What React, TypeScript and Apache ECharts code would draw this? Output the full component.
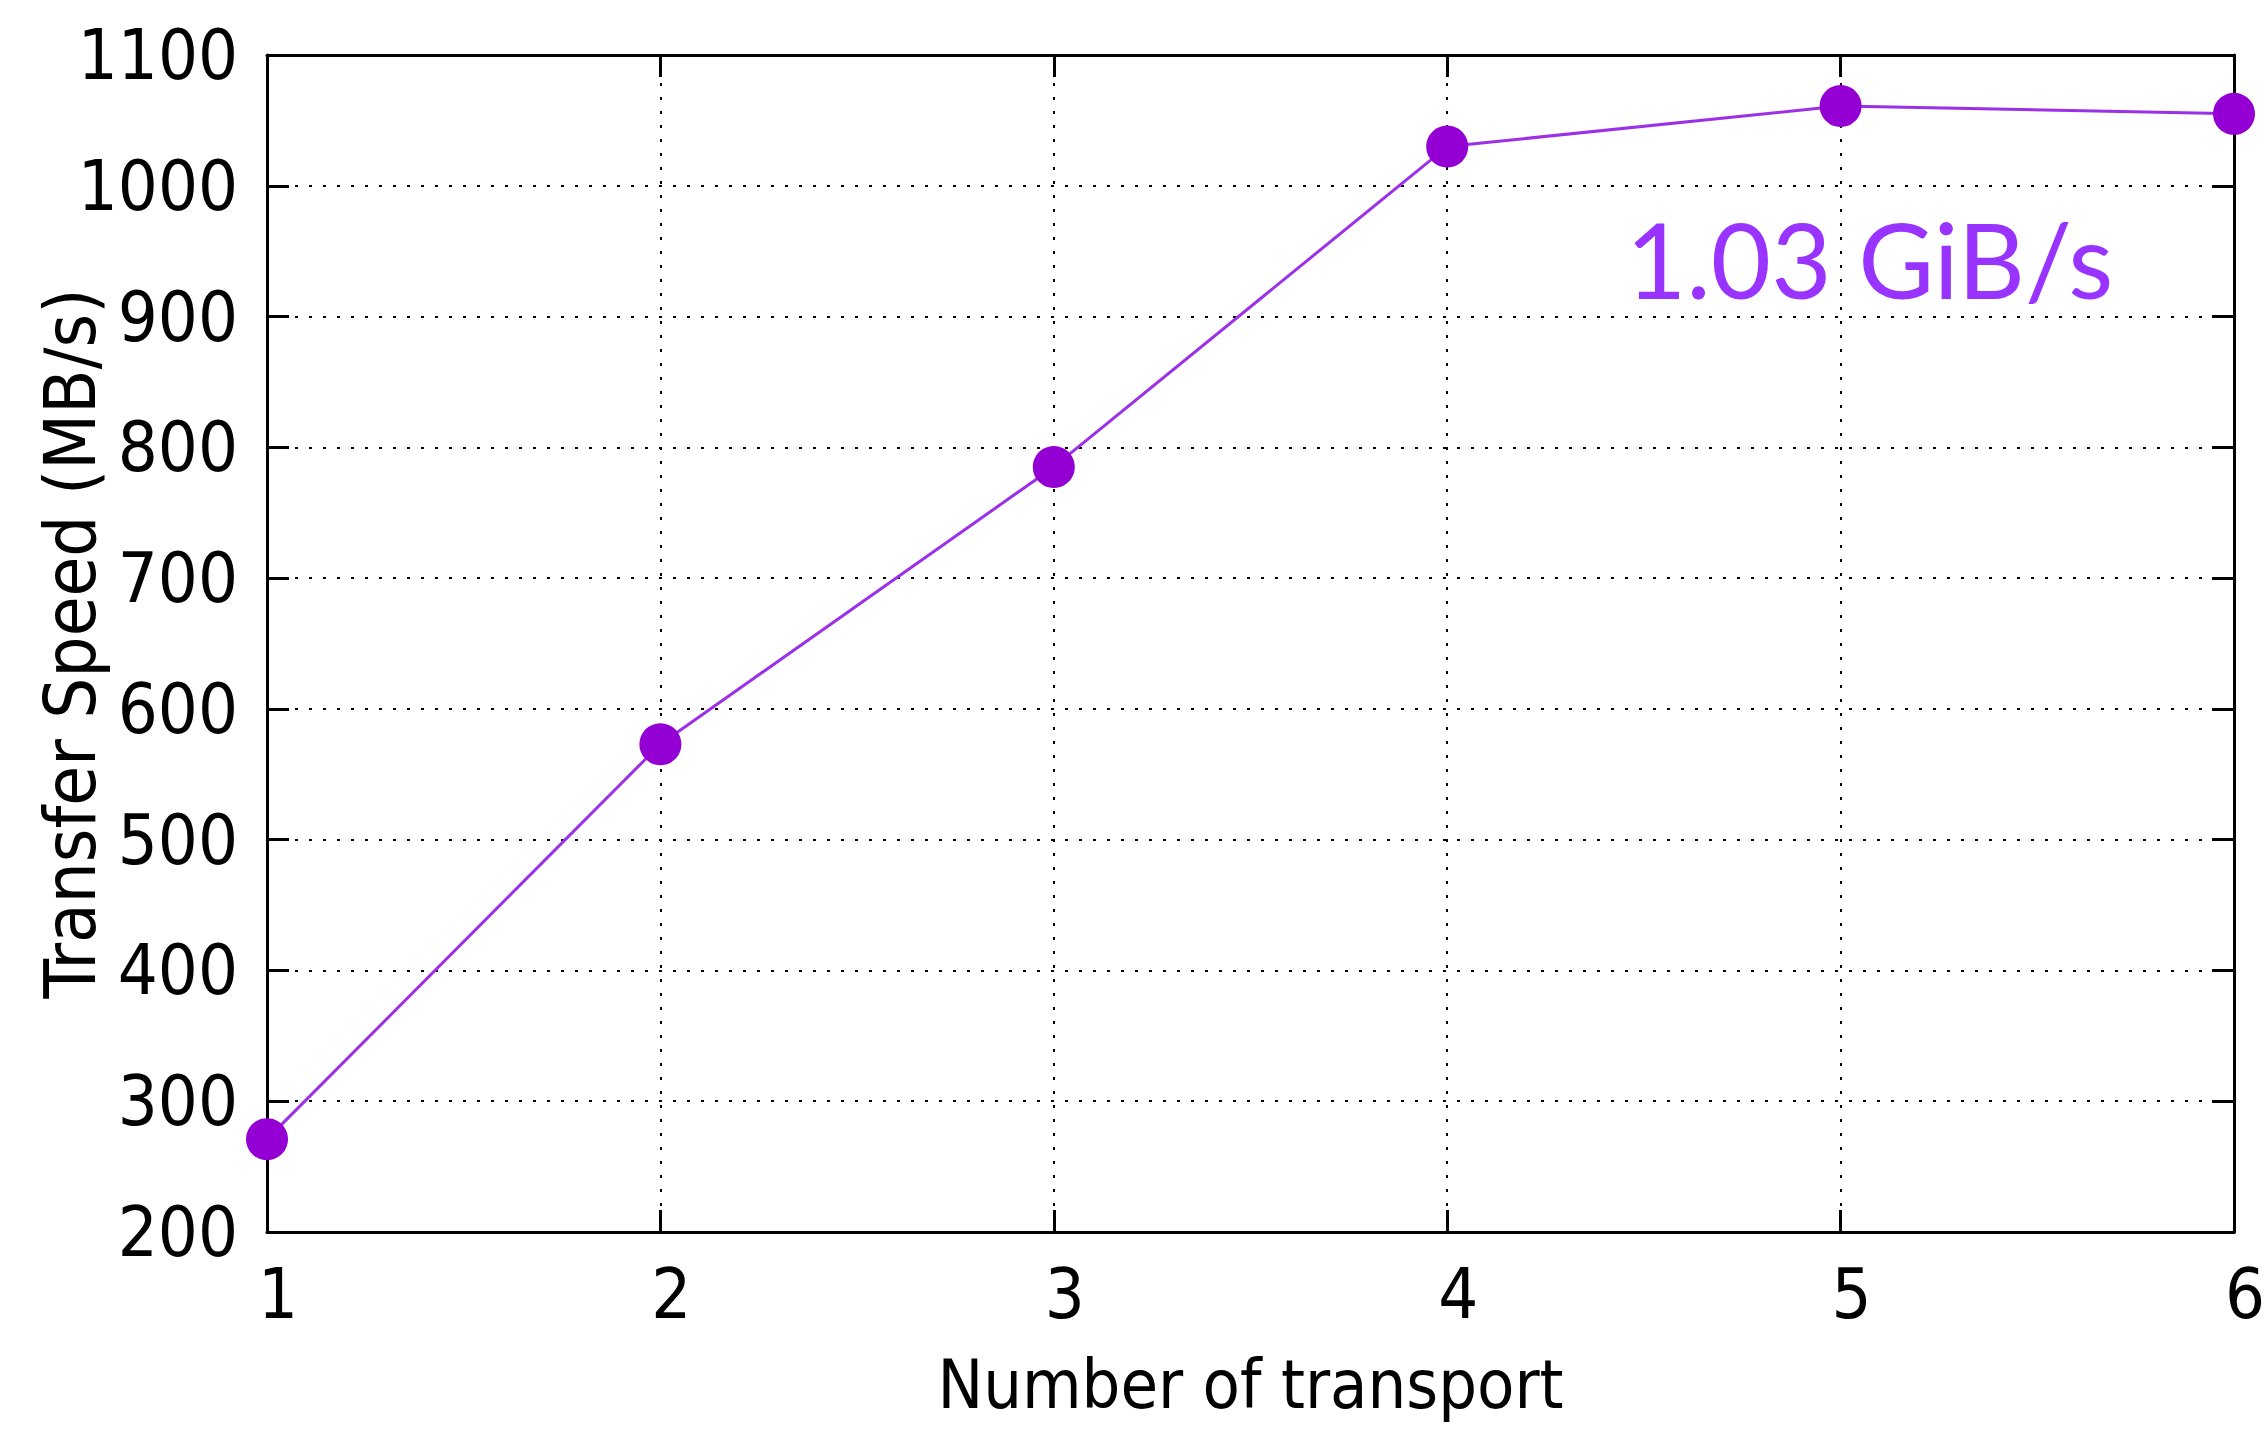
import React, { useEffect, useRef } from "react";
import * as echarts from "echarts";

const transports = [1, 2, 3, 4, 5, 6];
const speeds = [271, 573, 785, 1030, 1061, 1055];
const yTicks = [200, 300, 400, 500, 600, 700, 800, 900, 1000, 1100];
const annotationText = "1.03 GiB/s";
const xTitle = "Number of transport";
const yTitle = "Transfer Speed (MB/s)";

const FONT = "'DejaVu Sans Condensed', 'DejaVu Sans', sans-serif";

export default function App() {
  const ref = useRef<HTMLDivElement>(null);
  useEffect(() => {
    document.body.style.margin = "0";
    if (!ref.current) return;
    const chart = echarts.init(ref.current, undefined, { renderer: "svg" });
    const lineAxis = { show: true, lineStyle: { color: "#000", width: 3 } };
    const tick = { show: true, inside: true, length: 22, lineStyle: { color: "#000", width: 3 } };
    const grid = { show: true, lineStyle: { color: "#000", width: 2, type: [3, 11] as any } };
    chart.setOption({
      animation: false,
      backgroundColor: "#fff",
      grid: { left: 267, right: 30, top: 55, bottom: 197, containLabel: false, outerBoundsMode: "none" },
      xAxis: [
        {
          type: "value",
          min: transports[0],
          max: transports[transports.length - 1],
          interval: 1,
          position: "bottom",
          axisLine: lineAxis,
          axisTick: tick,
          splitLine: grid,
          axisLabel: {
            color: "#000",
            fontSize: 70,
            fontFamily: FONT,
            margin: 27,
            padding: [0, 0, 0, 22],
            showMaxLabel: true,
            showMinLabel: true,
            formatter: (v: number) => String(v),
          },
          name: xTitle,
          nameLocation: "middle",
          nameGap: 118,
          nameMoveOverlap: false,
          nameTextStyle: { color: "#000", fontSize: 68, fontFamily: FONT },
        },
        {
          type: "value",
          min: transports[0],
          max: transports[transports.length - 1],
          interval: 1,
          position: "top",
          axisLine: lineAxis,
          axisTick: tick,
          splitLine: { show: false },
          axisLabel: { show: false },
        },
      ],
      yAxis: [
        {
          type: "value",
          min: yTicks[0],
          max: yTicks[yTicks.length - 1],
          interval: 100,
          position: "left",
          axisLine: lineAxis,
          axisTick: tick,
          splitLine: grid,
          axisLabel: {
            color: "#000",
            fontSize: 70,
            fontFamily: FONT,
            margin: 29,
            formatter: (v: number) => String(v),
          },
          name: yTitle,
          nameLocation: "middle",
          nameRotate: 90,
          nameGap: 161,
          nameMoveOverlap: false,
          nameTextStyle: { color: "#000", fontSize: 72, fontFamily: FONT },
        },
        {
          type: "value",
          min: yTicks[0],
          max: yTicks[yTicks.length - 1],
          interval: 100,
          position: "right",
          axisLine: lineAxis,
          axisTick: tick,
          splitLine: { show: false },
          axisLabel: { show: false },
        },
      ],
      series: [
        {
          type: "line",
          data: transports.map((t, i) => [t, speeds[i]]),
          symbol: "circle",
          symbolSize: 42,
          clip: false,
          itemStyle: { color: "#9400d3" },
          lineStyle: { color: "#9b30e8", width: 3 },
          z: 1,
        },
      ],
      graphic: [
        {
          type: "text",
          left: 1626,
          top: 206,
          style: {
            text: annotationText,
            fill: "#9933ff",
            font: "104px Lato, 'Open Sans', sans-serif",
          },
        },
      ],
    });
    return () => chart.dispose();
  }, []);
  return (
    <div
      ref={ref}
      style={{ position: "fixed", left: 0, top: 0, width: 2264, height: 1429 }}
    />
  );
}
